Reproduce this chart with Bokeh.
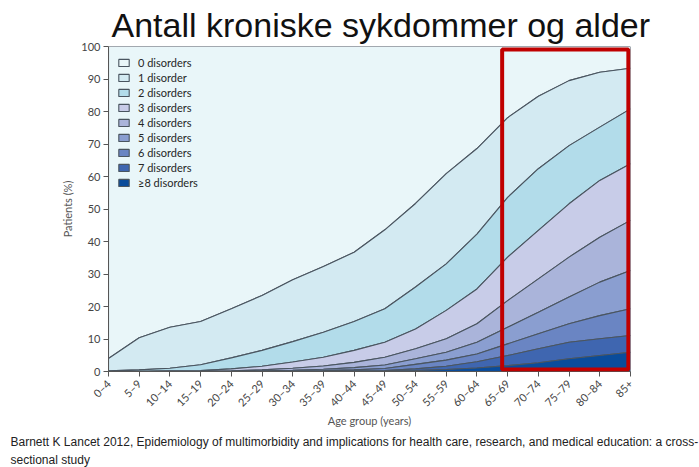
from bokeh.plotting import figure
from bokeh.models import FixedTicker, Legend, LegendItem, BoxAnnotation, Title
from bokeh.embed import file_html
from bokeh.resources import INLINE

# ---- data ----
age_groups = ["0–4", "5–9", "10–14", "15–19", "20–24", "25–29", "30–34", "35–39",
              "40–44", "45–49", "50–54", "55–59", "60–64", "65–69", "70–74",
              "75–79", "80–84", "85+"]
# cumulative share of patients (%) with at least k disorders
ge1 = [4.0, 10.4, 13.6, 15.4, 19.3, 23.4, 28.2, 32.3, 36.7, 43.6, 51.7, 60.9, 68.6, 78.1, 84.7, 89.5, 92.1, 93.3]
ge2 = [0.2, 0.5, 1.0, 2.1, 4.2, 6.5, 9.2, 12.1, 15.4, 19.3, 26.0, 33.1, 42.3, 53.6, 62.4, 69.5, 75.2, 80.8]
ge3 = [0.0, 0.1, 0.2, 0.3, 0.8, 1.6, 2.9, 4.4, 6.5, 9.0, 13.1, 18.8, 25.4, 35.2, 43.4, 51.6, 58.8, 63.9]
ge4 = [0.0, 0.0, 0.1, 0.1, 0.2, 0.5, 1.0, 1.7, 2.8, 4.4, 7.0, 10.1, 14.7, 21.8, 28.5, 35.2, 41.3, 46.5]
ge5 = [0.0, 0.0, 0.0, 0.0, 0.1, 0.2, 0.4, 0.7, 1.2, 2.0, 3.9, 5.9, 9.0, 13.6, 18.2, 22.9, 27.5, 31.1]
ge6 = [0.0, 0.0, 0.0, 0.0, 0.0, 0.1, 0.2, 0.3, 0.5, 0.9, 2.2, 3.5, 5.4, 8.5, 11.6, 14.7, 17.2, 19.3]
ge7 = [0.0, 0.0, 0.0, 0.0, 0.0, 0.0, 0.0, 0.1, 0.2, 0.3, 0.8, 1.6, 3.0, 4.9, 7.0, 9.0, 10.1, 11.1]
ge8 = [0.0, 0.0, 0.0, 0.0, 0.0, 0.0, 0.0, 0.0, 0.0, 0.1, 0.3, 0.6, 1.1, 1.8, 2.7, 3.9, 4.9, 5.9]
total = [100.0] * len(age_groups)
zero = [0.0] * len(age_groups)

band_labels = ["0 disorders", "1 disorder", "2 disorders", "3 disorders", "4 disorders",
               "5 disorders", "6 disorders", "7 disorders", "≥8 disorders"]
band_colors = ["#e9f6f9", "#d3eaf2", "#b2dcea", "#c8cce8", "#aab4da",
               "#8a9ed0", "#6a85c3", "#3f66b0", "#0a4c9b"]
y_ticks = list(range(0, 101, 10))

title_text = "Antall kroniske sykdommer og alder"
source_line1 = ("Barnett K Lancet 2012, Epidemiology of multimorbidity and implications for "
                "health care, research, and medical education: a cross-")
source_line2 = "sectional study"

# ---- figure ----
p = figure(frame_width=522, frame_height=325, output_backend="svg", toolbar_location=None,
           x_range=(0, len(age_groups) - 1), y_range=(0, 100),
           min_border_left=108, min_border_right=69, min_border_top=46,
           min_border_bottom=96)
p.outline_line_color = None
p.xgrid.visible = False
p.ygrid.visible = False

idx = list(range(len(age_groups)))
bounds = [total, ge1, ge2, ge3, ge4, ge5, ge6, ge7, ge8, zero]
items = []
for k in range(9):
    upper = bounds[k]
    lower = bounds[k + 1]
    xs = idx + idx[::-1]
    ys = upper + lower[::-1]
    r = p.patch(xs, ys, fill_color=band_colors[k], line_color="#4a5560", line_width=1.1)
    items.append(LegendItem(label=band_labels[k], renderers=[r]))

legend = Legend(items=items, location="top_left", margin=0, padding=9,
                spacing=0, label_height=15, glyph_height=9, glyph_width=13,
                label_standoff=8, label_text_font="Lato", label_text_font_size="11px",
                label_text_color="#262626", background_fill_alpha=0,
                border_line_alpha=0)
p.add_layout(legend)

# axes
p.xaxis.ticker = FixedTicker(ticks=idx)
p.xaxis.major_label_overrides = {i: lab for i, lab in enumerate(age_groups)}
p.xaxis.major_label_orientation = 0.785
p.yaxis.ticker = FixedTicker(ticks=y_ticks)
for ax in (p.xaxis, p.yaxis):
    ax.axis_line_color = "#555555"
    ax.major_tick_line_color = "#555555"
    ax.minor_tick_line_color = None
    ax.major_tick_in = 0
    ax.major_tick_out = 5
    ax.major_label_text_font = "Lato"
    ax.major_label_text_font_size = "11px"
    ax.major_label_text_color = "#444444"
    ax.axis_label_text_font = "Lato"
    ax.axis_label_text_font_size = "11px"
    ax.axis_label_text_font_style = "normal"
    ax.axis_label_text_color = "#555555"
p.xaxis.axis_label = "Age group (years)"
p.yaxis.axis_label = "Patients (%)"
p.xaxis.axis_label_standoff = -2
p.yaxis.axis_label_standoff = 4
p.yaxis.major_label_standoff = 3

# red highlight box (kept inside the plotting area so it is not clipped)
p.add_layout(BoxAnnotation(left=12.82, right=16.93, bottom=0.6, top=99.1,
                           fill_alpha=0, line_color="#c00000", line_alpha=1.0,
                           line_width=4))

# title and source
p.add_layout(Title(text=title_text, align="left", offset=3, standoff=5,
                   text_font="Liberation Sans", text_font_size="34px",
                   text_font_style="normal", text_color="#111111"), "above")
p.add_layout(Title(text=source_line1, align="left", offset=-98, standoff=4,
                   text_font="Liberation Sans", text_font_size="12px",
                   text_font_style="normal", text_color="#222222"), "below")
p.add_layout(Title(text=source_line2, align="left", offset=-98, standoff=0,
                   text_font="Liberation Sans", text_font_size="12px",
                   text_font_style="normal", text_color="#222222"), "below")

open("out.html", "w").write(file_html(p, INLINE))
